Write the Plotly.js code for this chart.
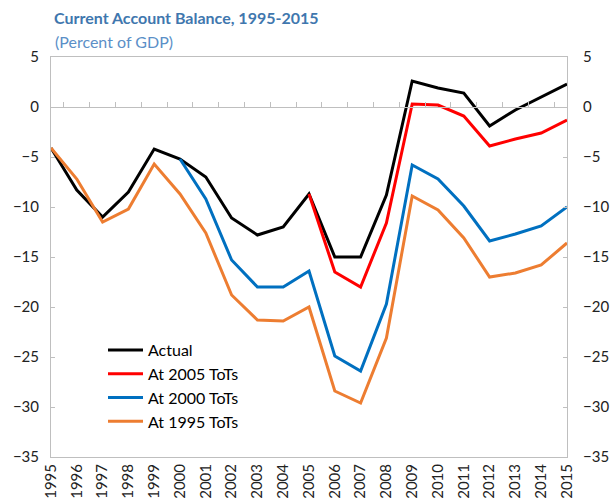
<!DOCTYPE html>
<html>
<head>
<meta charset="utf-8">
<script src="https://cdn.plot.ly/plotly-3.0.1.min.js"></script>
<style>html,body{margin:0;padding:0;background:#fff;}#chart{width:610px;height:503px;}</style>
</head>
<body>
<div id="chart"></div>
<script>
const years = ['1995','1996','1997','1998','1999','2000','2001','2002','2003','2004','2005','2006','2007','2008','2009','2010','2011','2012','2013','2014','2015'];
const actual   = [-4.1,-8.3,-11.0,-8.5,-4.2,-5.2,-7.0,-11.1,-12.8,-12.0,-8.7,-15.0,-15.0,-8.8,2.6,1.9,1.4,-1.9,-0.3,1.0,2.3];
const tots2005 = [null,null,null,null,null,null,null,null,null,null,-8.7,-16.5,-18.0,-11.6,0.3,0.2,-0.9,-3.9,-3.2,-2.6,-1.3];
const tots2000 = [null,null,null,null,null,-5.2,-9.2,-15.3,-18.0,-18.0,-16.4,-24.9,-26.4,-19.7,-5.8,-7.2,-9.9,-13.4,-12.7,-11.9,-10.0];
const tots1995 = [-4.1,-7.2,-11.5,-10.2,-5.7,-8.7,-12.6,-18.8,-21.3,-21.4,-20.0,-28.4,-29.6,-23.1,-8.9,-10.3,-13.1,-17.0,-16.6,-15.8,-13.6];
const names = ['Actual','At 2005 ToTs','At 2000 ToTs','At 1995 ToTs'];
const colors = ['#000000','#FF0000','#0070C0','#ED7D31'];
const series = [actual, tots2005, tots2000, tots1995];

const FONT = 'Lato, "Open Sans", sans-serif';
const GRID = '#BFBFBF';

const traces = series.map((s,i)=>({
  x: years, y: s, name: names[i], type:'scatter', mode:'lines',
  line:{color:colors[i], width:3}, connectgaps:false, hoverinfo:'skip'
}));
// helper trace for the category ticks on the zero line and the right axis
traces.push({x: years, y: years.map(()=>null), xaxis:'x2', yaxis:'y2', type:'scatter', mode:'lines', showlegend:false, hoverinfo:'skip'});

const layout = {
  width:610, height:503,
  margin:{l:51, r:43, t:57, b:46},
  paper_bgcolor:'#fff', plot_bgcolor:'#fff',
  font:{family:FONT, size:15, color:'#222'},
  showlegend:true,
  legend:{x:(103-51)/516, y:(457-333)/400, xanchor:'left', yanchor:'top', bgcolor:'rgba(0,0,0,0)', itemwidth:35, font:{family:FONT, size:16, color:'#000'}, tracegroupgap:0},
  title:{text:'<b>Current Account Balance, 1995-2015</b>', xref:'container', yref:'container', x:54/610, xanchor:'left', y:1-18/503, yanchor:'middle', font:{family:FONT, size:16, color:'#3F77AE'}},
  annotations:[{text:'(Percent of GDP)', xref:'paper', yref:'paper', x:(53-51)/516, y:(457-42)/400, xanchor:'left', yanchor:'middle', showarrow:false, font:{family:FONT, size:16, color:'#5B8FC7'}}],
  xaxis:{type:'category', showline:true, linecolor:GRID, linewidth:1, mirror:true, ticks:'', showgrid:false, zeroline:false, tickangle:-90, tickfont:{family:FONT, size:15, color:'#222'}},
  xaxis2:{type:'category', overlaying:'x', anchor:'free', position:35/40, side:'bottom', showline:true, linecolor:GRID, linewidth:1, ticks:'inside', tickson:'boundaries', ticklen:5, tickcolor:GRID, showticklabels:false, showgrid:false, zeroline:false},
  yaxis:{range:[-35,5], dtick:5, tick0:0, showline:true, linecolor:GRID, linewidth:1, ticks:'inside', ticklen:4, tickcolor:GRID, showgrid:false, zeroline:false, ticklabelstandoff:8, tickfont:{family:FONT, size:15, color:'#222'}},
  yaxis2:{range:[-35,5], dtick:5, tick0:0, overlaying:'y', side:'right', anchor:'x', showline:true, linecolor:GRID, linewidth:1, ticks:'inside', ticklen:4, tickcolor:GRID, showgrid:false, zeroline:false, ticklabelstandoff:12, tickfont:{family:FONT, size:15, color:'#222'}}
};
Plotly.newPlot('chart', traces, layout, {displayModeBar:false, staticPlot:true});
</script>
</body>
</html>
